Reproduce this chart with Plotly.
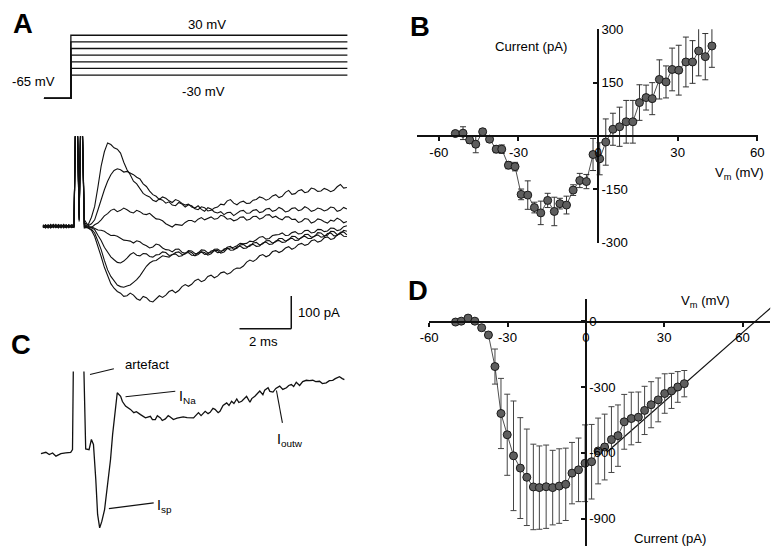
import plotly.graph_objects as go

# Layout positions below are written in picture pixels (773x553 target) and
# converted to figure pixels to match how the page is photographed.
PIC_W, PIC_H = 773, 553
SX = 553 / 561
SY = SX * 0.988
OFF = 8
FW = 777
FH = 553
FONT = "Liberation Sans, Arial, Helvetica, sans-serif"

# ---------------- Panel A: voltage protocol ----------------
step_levels_mv = [30, 20, 10, 0, -10, -20, -30]
hold_mv = -65
step_t = [0.04, 1.08, 1.08, 11.77]          # ms: start, step on, step on, end

# ---------------- Panel A: current traces (ms, pA) ----------------
t_pre = [0, 0.1, 0.2, 0.3, 0.4, 0.5, 0.6, 0.7, 0.8, 0.9, 1.0, 1.1, 1.2]
t_art = [1.26, 1.33, 1.4, 1.46, 1.52, 1.6]
t_resp = [1.75, 1.875, 2.0, 2.125, 2.25, 2.375, 2.5, 2.625, 2.75, 2.875,
          3.0, 3.125, 3.25, 3.375, 3.5, 3.625, 3.75, 3.875,
          4.0, 4.125, 4.25, 4.375, 4.5, 4.625, 4.75, 4.875,
          5.0, 5.125, 5.25, 5.375, 5.5, 5.625, 5.75, 5.875,
          6.0, 6.125, 6.25, 6.375, 6.5, 6.625, 6.75, 6.875,
          7.0, 7.125, 7.25, 7.375, 7.5, 7.625, 7.75, 7.875,
          8.0, 8.125, 8.25, 8.375, 8.5, 8.625, 8.75, 8.875,
          9.0, 9.125, 9.25, 9.375, 9.5, 9.625, 9.75, 9.875,
          10.0, 10.125, 10.25, 10.375, 10.5, 10.625, 10.75, 10.875,
          11.0, 11.125, 11.25, 11.375, 11.5, 11.625, 11.75]

a1_pre = [2, -4, 5, -3, 4, -2, 6, -1, 3, -4, 5, -2, 0]
a2_pre = [-3, 4, -2, 6, -4, 2, -5, 3, -1, 5, -3, 4, 2]
a3_pre = [4, -2, 3, -5, 2, -3, 5, -2, 4, -4, 1, -3, -1]
a4_pre = [-2, 5, -4, 3, -3, 6, -2, 4, -5, 2, -1, 5, 4]
a5_pre = [5, -3, 2, -4, 6, -1, 3, -5, 4, -2, 5, -4, -2]
a6_pre = [-4, 2, -5, 4, -1, 3, -3, 5, -2, 4, -4, 2, 3]
a7_pre = [1, -5, 4, -3, 5, -4, 2, -2, 6, -3, 3, -1, -3]

a1_art = [320, 320, 30, 320, 320, 10]
a2_art = [320, 300, 20, 320, 320, 20]
a3_art = [300, 320, 40, 310, 320, 5]
a4_art = [320, 320, 15, 320, 300, 0]
a5_art = [310, 320, 25, 320, 320, -5]
a6_art = [320, 320, 35, 300, 320, 8]
a7_art = [320, 310, 20, 320, 310, -3]

a1_resp = [5, 28, 61, 120, 184, 228, 255, 250, 240, 236, 224, 196, 173, 158, 138, 130, 117, 101, 94, 90,
           80, 76, 84, 80, 71, 75, 65, 63, 73, 68, 59, 66, 63, 54, 51, 60, 57, 47, 49, 56,
           59, 68, 66, 78, 82, 71, 66, 74, 77, 70, 71, 80, 82, 90, 87, 80, 84, 93, 97, 88,
           92, 104, 110, 98, 100, 109, 112, 103, 106, 117, 114, 107, 108, 116, 112, 106, 110, 121, 128, 117,
           119]
a2_resp = [2, 8, 20, 50, 82, 112, 138, 158, 171, 176, 173, 166, 168, 164, 158, 150, 145, 130, 122, 108,
           97, 92, 82, 90, 86, 78, 73, 82, 78, 70, 65, 68, 59, 56, 63, 52, 46, 57, 53, 44,
           41, 45, 36, 42, 43, 33, 39, 47, 49, 40, 41, 49, 51, 42, 45, 53, 55, 46, 49, 58,
           53, 44, 47, 55, 57, 48, 51, 60, 55, 46, 49, 56, 53, 47, 51, 59, 57, 46, 49, 58,
           53]
a3_resp = [0, -4, 5, 10, 20, 32, 39, 49, 53, 45, 49, 56, 51, 44, 41, 49, 45, 38, 36, 40,
           31, 23, 22, 17, 8, 4, -2, 6, 4, 3, 12, 18, 18, 13, 22, 27, 20, 24, 29, 22,
           24, 34, 31, 22, 24, 17, 20, 28, 29, 19, 22, 30, 31, 22, 26, 35, 36, 27, 31, 24,
           20, 29, 29, 21, 22, 12, 15, 24, 22, 10, 14, 23, 20, 14, 10, 19, 16, 25, 20, 11,
           15]
a4_resp = [-2, -1, -5, -11, -12, -15, -22, -28, -27, -30, -36, -42, -43, -45, -51, -44, -47, -55, -59, -66,
           -63, -54, -57, -66, -71, -72, -78, -70, -69, -79, -82, -77, -80, -90, -86, -78, -80, -88, -84, -74,
           -73, -82, -78, -68, -66, -64, -59, -52, -53, -52, -45, -47, -41, -33, -31, -39, -37, -28, -26, -25,
           -20, -28, -27, -19, -16, -23, -22, -13, -12, -20, -18, -9, -10, -16, -14, -5, -6, -13, -10, -1,
           2]
a5_resp = [-2, -4, -10, -27, -43, -64, -80, -93, -102, -110, -112, -106, -97, -86, -80, -88, -90, -83, -84, -92,
           -94, -87, -86, -78, -80, -89, -87, -80, -78, -86, -84, -74, -75, -83, -82, -72, -73, -81, -80, -70,
           -69, -76, -73, -64, -61, -70, -67, -57, -55, -63, -61, -51, -49, -57, -53, -44, -43, -51, -47, -37,
           -37, -45, -41, -30, -31, -39, -35, -25, -24, -33, -31, -19, -20, -29, -27, -15, -16, -25, -22, -12,
           -15]
a6_resp = [-5, -9, -20, -45, -71, -104, -133, -153, -168, -179, -184, -186, -182, -179, -171, -163, -151, -135, -122, -112,
           -106, -104, -98, -90, -92, -94, -86, -84, -92, -90, -82, -80, -88, -89, -80, -78, -86, -84, -75, -73,
           -80, -79, -69, -66, -73, -72, -63, -60, -67, -66, -57, -55, -61, -60, -51, -48, -55, -54, -45, -43,
           -49, -48, -39, -36, -43, -42, -33, -30, -37, -37, -29, -26, -33, -31, -22, -20, -29, -28, -18, -17,
           -26]
a7_resp = [-5, -12, -31, -60, -92, -125, -153, -175, -189, -199, -204, -214, -212, -204, -210, -221, -226, -214, -218, -228,
           -231, -220, -212, -217, -210, -199, -195, -203, -196, -184, -178, -183, -177, -166, -161, -169, -165, -153, -149, -157,
           -152, -142, -139, -146, -142, -132, -127, -128, -121, -109, -103, -107, -101, -90, -86, -93, -88, -77, -74, -80,
           -75, -66, -62, -70, -65, -55, -52, -58, -55, -44, -41, -48, -45, -35, -32, -40, -37, -26, -22, -30,
           -31]

scale_ms = 2.0
scale_pa = 100.0

# ---------------- Panel B ----------------
b_vm = [-53.8, -50.9, -48.4, -46.1, -43.5, -40.9, -38.4, -36.3, -33.8, -31.3,
        -29.0, -26.5, -24.0, -21.6, -19.0, -16.5, -14.4, -11.9, -9.4, -6.9,
        -4.4, -1.9, 0.6, 2.9, 5.6, 8.1, 10.6, 13.1, 15.6, 18.1,
        20.4, 23.1, 25.6, 27.9, 30.4, 33.1, 35.6, 37.9, 40.4, 42.9]
b_cur = [7, 8, -11, -23, 12, -9, -37, -37, -82, -86,
         -164, -166, -201, -216, -181, -212, -190, -194, -152, -125,
         -128, -52, -64, -17, 19, 26, 40, 40, 94, 108,
         105, 159, 152, 187, 185, 208, 208, 239, 223, 253]
b_err = [5, 18, 10, 24, 8, 8, 10, 12, 10, 12,
         15, 40, 15, 33, 20, 40, 15, 25, 15, 20,
         20, 45, 45, 65, 45, 55, 60, 60, 50, 35,
         45, 55, 45, 60, 70, 70, 60, 70, 65, 60]
b_xticks = [-60, -30, 0, 30, 60]
b_yticks = [300, 150, -150, -300]

# ---------------- Panel C ----------------
t_c = [0, 0.19, 0.32, 0.45, 0.58, 0.77, 0.96, 1.15, 1.22, 1.26,
       1.45, 1.64, 1.73, 1.86, 1.95, 2.03, 2.12, 2.19, 2.27, 2.35,
       2.46, 2.58, 2.69, 2.77, 2.85, 2.95, 3.08, 3.15, 3.27, 3.46,
       3.59, 3.69, 3.85, 4.04, 4.23, 4.31, 4.42, 4.5, 4.62, 4.69,
       4.81, 4.92, 5.0, 5.12, 5.26, 5.38, 5.5, 5.65, 5.9, 6.09,
       6.19, 6.35, 6.46, 6.54, 6.65, 6.73, 6.85, 6.92, 7.04, 7.18,
       7.27, 7.37, 7.46, 7.57, 7.65, 7.76, 7.85, 7.95, 8.08, 8.15,
       8.27, 8.38, 8.46, 8.58, 8.65, 8.78, 8.85, 8.97, 9.08, 9.23,
       9.35, 9.49, 9.58, 9.68, 9.77, 9.87, 10.0, 10.12, 10.26, 10.38,
       10.51, 10.62, 10.77, 10.88, 11.03, 11.15, 11.28, 11.38, 11.54, 11.65,
       11.73]
i_c = [3, 7, 0, 5, -5, 3, 5, 7, 15, 330,
       330, 330, 17, 15, 46, 31, -76, -183, -224, -205,
       -168, -92, -15, 61, 128, 189, 178, 162, 148, 138,
       128, 131, 122, 112, 117, 107, 107, 119, 112, 104,
       109, 119, 115, 107, 111, 112, 115, 113, 112, 128,
       119, 132, 125, 129, 141, 138, 128, 132, 150, 158,
       150, 163, 156, 170, 159, 163, 171, 178, 160, 171,
       178, 187, 194, 183, 197, 204, 193, 191, 202, 209,
       199, 204, 211, 214, 208, 221, 211, 223, 227, 226,
       227, 223, 224, 217, 219, 226, 227, 232, 238, 232,
       229]

# ---------------- Panel D ----------------
d_vm = [-49.9, -47.7, -45.1, -42.5, -39.9, -37.3, -34.8, -32.5, -30.1, -27.7,
        -25.1, -22.6, -20.1, -17.8, -15.2, -12.7, -10.2, -7.7, -5.3, -2.8,
        -0.3, 2.2, 4.7, 7.2, 9.8, 12.3, 14.7, 17.4, 20.1, 22.5,
        25.0, 27.7, 30.2, 32.8, 35.2, 37.7]
d_cur = [-4, 0, 14, 0, -30, -63, -207, -421, -518, -614,
         -670, -712, -756, -759, -755, -759, -752, -744, -693, -678,
         -648, -641, -592, -574, -540, -522, -459, -444, -438, -407,
         -381, -359, -330, -318, -300, -285]
d_err = [8, 8, 8, 8, 10, 12, 80, 160, 185, 250,
         230, 220, 195, 190, 190, 170, 170, 165, 140, 145,
         175, 170, 150, 150, 150, 140, 125, 120, 115, 110,
         105, 100, 90, 80, 70, 60]
d_fit_vm = [8, 71]
d_fit_cur = [-598, 63]
d_xticks = [-60, -30, 0, 30, 60]
d_yticks = [0, -300, -600, -900]


# ---------------- helpers (layout only) ----------------
def fx(x):
    return x / SX - OFF


def fy(y):
    return y / SY - OFF


def clamp(v):
    return max(0.0, min(1.0, v))


def xmap(p0, p1, origin, s):
    return dict(domain=[clamp(fx(p0) / FW), clamp(fx(p1) / FW)],
                range=[(p0 - origin) / s, (p1 - origin) / s])


def ymap(ptop, pbot, origin, s):
    return dict(domain=[clamp(1 - fy(pbot) / FH), clamp(1 - fy(ptop) / FH)],
                range=[(origin - pbot) / s, (origin - ptop) / s])


def px(x, y):
    return fx(x) / FW, 1 - fy(y) / FH


def fs(size):
    return size / SX


fig = go.Figure()
line_col = "#111111"

for v in step_levels_mv:
    fig.add_trace(go.Scatter(x=step_t, y=[hold_mv, hold_mv, v, v], mode="lines",
                             line=dict(color=line_col, width=1.3), xaxis="x", yaxis="y",
                             showlegend=False, hoverinfo="skip"))

t_a = t_pre + t_art + t_resp
a_traces = [a1_pre + a1_art + a1_resp, a2_pre + a2_art + a2_resp, a3_pre + a3_art + a3_resp,
            a4_pre + a4_art + a4_resp, a5_pre + a5_art + a5_resp, a6_pre + a6_art + a6_resp,
            a7_pre + a7_art + a7_resp]
for tr in a_traces:
    n = min(len(t_a), len(tr))
    fig.add_trace(go.Scatter(x=t_a[:n], y=tr[:n], mode="lines",
                             line=dict(color=line_col, width=1.1), xaxis="x2", yaxis="y2",
                             showlegend=False, hoverinfo="skip"))

fig.add_trace(go.Scatter(x=b_vm, y=b_cur, mode="lines+markers", xaxis="x3", yaxis="y3",
                         line=dict(color="#222", width=0.8),
                         marker=dict(size=8, color="#5e5e5e", line=dict(color="#1a1a1a", width=1)),
                         error_y=dict(type="data", array=b_err, visible=True, thickness=1,
                                      width=3, color="#333"),
                         cliponaxis=False, showlegend=False, hoverinfo="skip"))

fig.add_trace(go.Scatter(x=t_c, y=i_c, mode="lines", xaxis="x4", yaxis="y4",
                         line=dict(color=line_col, width=1.3), showlegend=False, hoverinfo="skip"))

fig.add_trace(go.Scatter(x=d_fit_vm, y=d_fit_cur, mode="lines", xaxis="x5", yaxis="y5",
                         line=dict(color="#111", width=1.2), cliponaxis=False,
                         showlegend=False, hoverinfo="skip"))
fig.add_trace(go.Scatter(x=d_vm, y=d_cur, mode="lines+markers", xaxis="x5", yaxis="y5",
                         line=dict(color="#222", width=0.8),
                         marker=dict(size=8, color="#5e5e5e", line=dict(color="#1a1a1a", width=1)),
                         error_y=dict(type="data", array=d_err, visible=True, thickness=1,
                                      width=3, color="#444"),
                         cliponaxis=False, showlegend=False, hoverinfo="skip"))

hidden = dict(visible=False, showgrid=False, zeroline=False, fixedrange=True)
ax_tick_font = dict(family=FONT, size=fs(13), color="#000")

xa1 = xmap(30, 360, 42, 26.0)
ya1 = ymap(15, 112, 55.9, 0.6632)
xa2 = xmap(30, 360, 42, 26.0)
ya2 = ymap(137, 342, 227, 0.327)
xa3 = xmap(418, 761, 600, 2.667)
ya3 = ymap(30, 244, 136.7, 0.3556)
xa4 = xmap(30, 360, 40, 26.0)
ya4 = ymap(372, 540, 455, 0.327)
xa5 = xmap(430, PIC_W, 587.7, 2.625)
ya5 = ymap(300, PIC_H, 322.3, 0.225)

axis_common = dict(showgrid=False, zeroline=False, showline=True, linecolor="#111",
                   linewidth=1.5, tickcolor="#111", tickwidth=1.5, ticklen=4,
                   tickfont=ax_tick_font, fixedrange=True)

fig.update_layout(
    width=FW, height=FH, autosize=False,
    margin=dict(l=0, r=0, t=0, b=0, pad=0),
    paper_bgcolor="white", plot_bgcolor="rgba(0,0,0,0)",
    font=dict(family=FONT, color="#000"),
    xaxis=dict(**hidden, **xa1, anchor="y"),
    yaxis=dict(**hidden, **ya1, anchor="x"),
    xaxis2=dict(**hidden, **xa2, anchor="y2"),
    yaxis2=dict(**hidden, **ya2, anchor="x2"),
    xaxis3=dict(**axis_common, **xa3, anchor="free", position=1 - fy(136.7) / FH,
                ticks="outside", tickvals=b_xticks, ticktext=[str(v) for v in b_xticks]),
    yaxis3=dict(**axis_common, **ya3, anchor="free", position=fx(600) / FW, side="right",
                ticks="inside", tickvals=b_yticks, ticktext=[str(v) for v in b_yticks]),
    xaxis4=dict(**hidden, **xa4, anchor="y4"),
    yaxis4=dict(**hidden, **ya4, anchor="x4"),
    xaxis5=dict(**axis_common, **xa5, anchor="free", position=1 - fy(322.3) / FH,
                ticks="outside", tickvals=d_xticks, ticktext=[str(v) for v in d_xticks]),
    yaxis5=dict(**axis_common, **ya5, anchor="free", position=fx(587.7) / FW, side="right",
                ticks="inside", tickvals=d_yticks, ticktext=[str(v) for v in d_yticks]),
)

sb_t, sb_i = 9.6, -313
fig.add_shape(type="line", xref="x2", yref="y2", x0=sb_t - scale_ms, x1=sb_t, y0=sb_i, y1=sb_i,
              line=dict(color="#111", width=1.5))
fig.add_shape(type="line", xref="x2", yref="y2", x0=sb_t, x1=sb_t, y0=sb_i, y1=sb_i + scale_pa,
              line=dict(color="#111", width=1.5))


def text(x, y, s, size=13, xanchor="center"):
    ax, ay = px(x, y)
    fig.add_annotation(x=ax, y=ay, xref="paper", yref="paper", text=s, showarrow=False,
                       xanchor=xanchor, yanchor="middle",
                       font=dict(family=FONT, size=fs(size), color="#000"))


def pline(x0, y0, x1, y1):
    a0, b0 = px(x0, y0)
    a1, b1 = px(x1, y1)
    fig.add_shape(type="line", xref="paper", yref="paper", x0=a0, y0=b0, x1=a1, y1=b1,
                  line=dict(color="#111", width=1.1))


text(22, 24, "<b>A</b>", size=27)
text(421, 27, "<b>B</b>", size=27)
text(20, 345, "<b>C</b>", size=27)
text(419, 291, "<b>D</b>", size=27)

text(207, 25, "30 mV", 13)
text(203, 92, "-30 mV", 13)
text(33, 82, "-65 mV", 13)
text(296, 313, f"{int(scale_pa)} pA", 13, xanchor="left")
text(264, 342, f"{int(scale_ms)} ms", 13)

text(533, 47, "Current (pA)", 13)
text(742, 174, "V<sub>m</sub> (mV)", 13)

text(708, 302, "V<sub>m</sub> (mV)", 13)
text(672, 539, "Current (pA)", 13)

text(147, 365, "artefact", 13)
pline(89.3, 375, 113.3, 369.3)
text(177, 397, "I<sub>Na</sub>", 14, xanchor="left")
pline(125, 397.3, 175, 391.7)
text(155, 506, "I<sub>sp</sub>", 14, xanchor="left")
pline(108.3, 509, 153.3, 503.3)
text(275, 440, "I<sub>outw</sub>", 14, xanchor="left")
pline(276.7, 391, 282.7, 423.3)

fig.write_html("out.html")
